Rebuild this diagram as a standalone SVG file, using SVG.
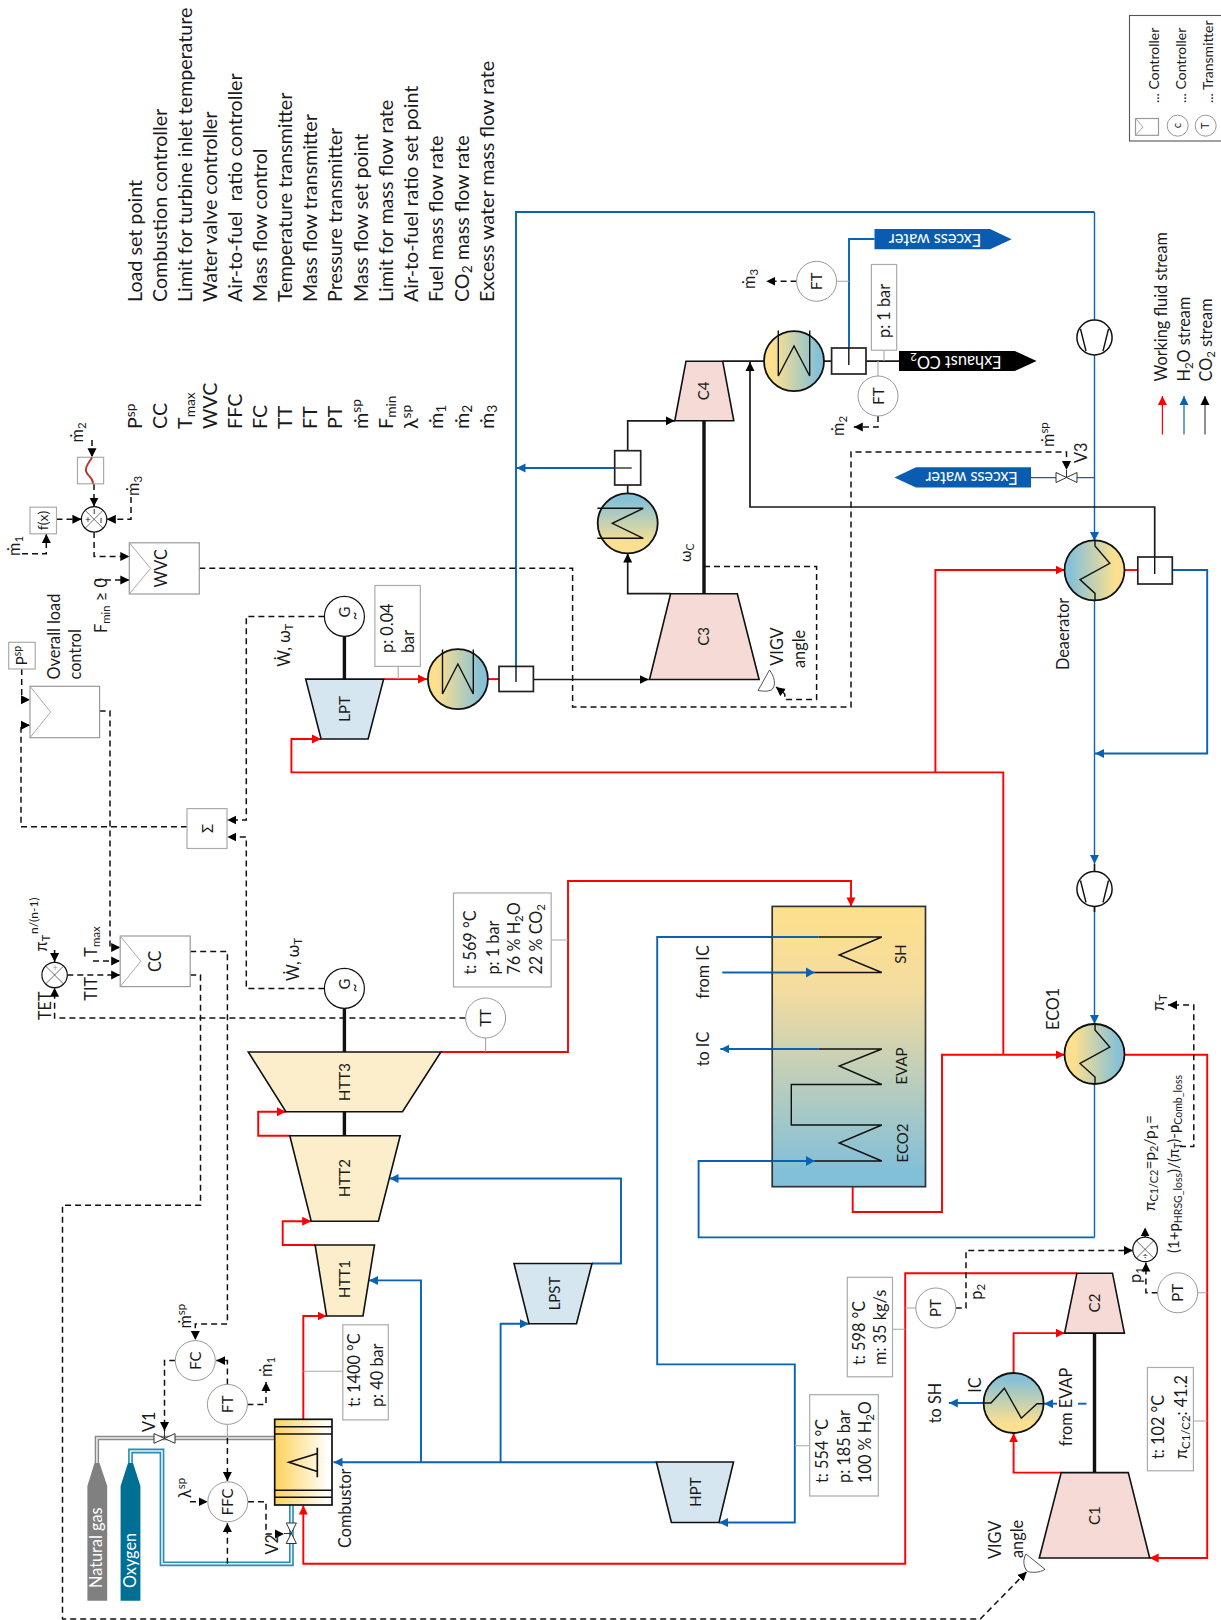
<svg xmlns="http://www.w3.org/2000/svg" width="1221" height="1620" viewBox="0 0 1221 1620">
<style>
text{font-family:Lato,"Noto Sans","DejaVu Sans",sans-serif;fill:#1a1a1a;font-size:16.3px}
.l{font-size:19.7px}.m{font-size:15px}.s{font-size:14px}.c{text-anchor:middle}
.su{font-size:70%}
.w{fill:#fff}
.r,.b,.k,.d,.g,.cl{fill:none}
.r{stroke:#f00;stroke-width:1.9}
.b{stroke:#0a62b5;stroke-width:1.9}
.bt{stroke:#0a62b5;stroke-width:1.4;fill:none}
.k{stroke:#1a1a1a;stroke-width:1.7}
.sh{stroke:#111;stroke-width:3.4;fill:none}
.d{stroke:#111;stroke-width:1.5;stroke-dasharray:6 4}
.g{stroke:#a8a8a8;stroke-width:1.1}
.box{fill:#fff;stroke:#aaa;stroke-width:1.2}
.circ{fill:#fff;stroke:#999;stroke-width:1}
.circk{fill:#fff;stroke:#111;stroke-width:1.2}
.cl{stroke:#111;stroke-width:1.4}
.x{stroke:#333;stroke-width:.7;fill:none}
.hx{stroke:#111;stroke-width:1.8}
.tu{stroke:#111;stroke-width:1.6}
.htt{fill:#fdeecb}.lp{fill:#d5e6f1}.co{fill:#f5dad5}
.ctl{fill:#fff;stroke:#999;stroke-width:1.2}
.chev{fill:none;stroke:#aaa;stroke-width:1}
.sep{fill:#fff;stroke:#222;stroke-width:1.7}
.val{fill:#fff;stroke:#333;stroke-width:1}
</style>
<defs>
<linearGradient id="gH"><stop offset="0.15" stop-color="#fde08f"/><stop offset="0.9" stop-color="#86c1d7"/></linearGradient>
<linearGradient id="gHr"><stop offset="0.1" stop-color="#86c1d7"/><stop offset="0.85" stop-color="#fde08f"/></linearGradient>
<linearGradient id="gV" x1="0" y1="0" x2="0" y2="1"><stop offset="0.1" stop-color="#86c1d7"/><stop offset="0.85" stop-color="#fde08f"/></linearGradient>
<linearGradient id="gS" x1="0" y1="0" x2="0" y2="1"><stop offset="0.03" stop-color="#fde08f"/><stop offset="0.3" stop-color="#f3dc9f"/><stop offset="0.95" stop-color="#82bfd9"/></linearGradient>
<linearGradient id="gC"><stop offset="0.05" stop-color="#fdd566"/><stop offset="0.95" stop-color="#fff"/></linearGradient>
<marker id="ar" viewBox="0 0 10 10" refX="10" refY="5" markerWidth="9" markerHeight="10" markerUnits="userSpaceOnUse" orient="auto"><path d="M0 0L10 5L0 10z" fill="#f00"/></marker>
<marker id="ab" viewBox="0 0 10 10" refX="10" refY="5" markerWidth="9" markerHeight="10" markerUnits="userSpaceOnUse" orient="auto"><path d="M0 0L10 5L0 10z" fill="#0a62b5"/></marker>
<marker id="ak" viewBox="0 0 10 10" refX="10" refY="5" markerWidth="9" markerHeight="10" markerUnits="userSpaceOnUse" orient="auto"><path d="M0 0L10 5L0 10z" fill="#000"/></marker>
</defs>

<g id="connectors">
<g class="r">
<path d="M303.3 1419V1316H326.6" marker-end="url(#ar)"/>
<path d="M315.1 1245H282.7V1221.2H311.2" marker-end="url(#ar)"/>
<path d="M289.8 1135.8H258.2V1111.7H285.9" marker-end="url(#ar)"/>
<path d="M440.9 1052H568V881H851V906.4" marker-end="url(#ar)"/>
<path d="M852.7 1186.7V1212H942V1054.8H1064.6" marker-end="url(#ar)"/>
<path d="M1003.3 1054.8V772.4H291.4V739H321" marker-end="url(#ar)"/>
<path d="M935.4 772.4V570H1064.6" marker-end="url(#ar)"/>
<path d="M383.6 679.1H427" marker-end="url(#ar)"/>
<path d="M488 679.1H499"/>
<path d="M1124.5 570H1137.8"/>
<path d="M1124.5 1054.8H1207.2V1558H1149.7" marker-end="url(#ar)"/>
<path d="M1076.9 1273.2H905.2V1563.8H303.3V1505.5" marker-end="url(#ar)"/>
<path d="M1061.2 1472.6H1013.6V1433.3" marker-end="url(#ar)"/>
<path d="M1013.6 1373V1333.1H1064.6" marker-end="url(#ar)"/>
</g>
<path class="b" d="M516 666V212H1094.5"/>
<path class="bt" d="M1094.5 212V320M1094.5 355V541" marker-end="url(#ab)"/>
<path class="b" d="M615 468H516.5" marker-end="url(#ab)"/>
<path class="b" d="M849 365V239H874.5"/>
<path class="bt" d="M1094.5 477.6H1077M1056 477.6H1031"/>
<path class="b" d="M1172.3 570H1207.2V753.5H1095" marker-end="url(#ab)"/>
<path class="bt" d="M1094.5 600V864" marker-end="url(#ab)"/>
<path class="bt" d="M1094.5 906V1024" marker-end="url(#ab)"/>
<path class="bt" d="M1094.5 1084V1237.4"/>
<path class="b" d="M1094.5 1237.4H698.6V1161H814.7" marker-end="url(#ab)"/>
<path class="b" d="M818.5 937H657.2V1364.4H794.8V1522.5H719" marker-end="url(#ab)"/>
<path class="b" d="M722.3 972.5H814.7" marker-end="url(#ab)"/>
<path class="b" d="M818.5 1049H720.4" marker-end="url(#ab)"/>
<path class="b" d="M656.4 1462.2H333.5" marker-end="url(#ab)"/>
<path class="b" d="M421 1462.2V1280.4H369" marker-end="url(#ab)"/>
<path class="b" d="M500.6 1462.2V1323.8H529" marker-end="url(#ab)"/>
<path class="b" d="M592 1263.5H621V1178.5H389.5" marker-end="url(#ab)"/>
<path class="b" d="M983.4 1403H948.9" marker-end="url(#ab)"/>
<path class="b" d="M1057 1403.7H1044" marker-end="url(#ab)"/>
<path class="b" d="M1078 1403.7H1086.5"/>
<path class="k" d="M533.4 679.5H648.7" marker-end="url(#ak)"/>
<path class="k" d="M670.6 593.7H627.7V553.5" marker-end="url(#ak)"/>
<path class="k" d="M627.7 493V485"/>
<path class="k" d="M627.7 450.7V420.8H674.8" marker-end="url(#ak)"/>
<path class="k" d="M722.7 361.2H764M824 361.2H831.6M866 361.2H899"/>
<path class="k" d="M1154.7 574V507H750V362" marker-end="url(#ak)"/>
<path class="k" d="M1094.5 864V872M1094.5 906V912"/>
<path class="sh" d="M344.4 636V679M344.4 1008V1052M344.4 1111.7V1135.8M704 421V593.7M1094.5 1333V1472.6"/>
<path d="M96.9 1463V1438H274.8" fill="none" stroke="#8a8a8a" stroke-width="4.4"/>
<path d="M96.9 1463V1438H274.8" fill="none" stroke="#eee" stroke-width="1.5"/>
<path d="M130.5 1463V1451H162V1563.8H291.4V1503.5" fill="none" stroke="#2b8db4" stroke-width="4.8"/>
<path d="M130.5 1463V1451H162V1563.8H291.4V1503.5" fill="none" stroke="#e8f4f8" stroke-width="1.6"/>
<path class="g" d="M303.3 1371.3H342.8M794.8 1445.7H809.7M892.5 1329.3H905.2M551.2 940H568M1193.4 1421H1207.2M884 350V361M398.2 666V679M878 361V376M796.6 281.3H849M485.6 1038V1052M1197.7 1292.8H1207.2M905.2 1308H915.8M227.4 1424V1438"/>
<g class="d">
<path d="M324.4 616.4H246.3V820H227.4" marker-end="url(#ak)"/>
<path d="M324.4 988.4H246.3V837H227.4" marker-end="url(#ak)"/>
<path d="M187 826.8H21V725.3H30" marker-end="url(#ak)"/>
<path d="M21.7 669V699.8H30" marker-end="url(#ak)"/>
<path d="M99.6 711H110V947.4H120.2" marker-end="url(#ak)"/>
<path d="M93 961H120.2" marker-end="url(#ak)"/>
<path d="M67.3 975H120.2" marker-end="url(#ak)"/>
<path d="M54.6 950V962" marker-end="url(#ak)"/>
<path d="M465.4 1018H54.6V987.7" marker-end="url(#ak)"/>
<path d="M190.2 951.5H227.4V1324H195.3V1340" marker-end="url(#ak)"/>
<path d="M190.2 975H200.5V1205.3H62.5V1619H980.3L1026.7 1571.7" marker-end="url(#ak)"/>
<path d="M227.4 1384.4V1360.6H216.3" marker-end="url(#ak)"/>
<path d="M175.3 1360.6H164.5V1431" marker-end="url(#ak)"/>
<path d="M247.4 1404.4H266V1382" marker-end="url(#ak)"/>
<path d="M227.4 1438V1481" marker-end="url(#ak)"/>
<path d="M227.4 1563.8V1523" marker-end="url(#ak)"/>
<path d="M190 1501.8H207.6" marker-end="url(#ak)"/>
<path d="M248 1501.8H266V1534H284" marker-end="url(#ak)"/>
<path d="M199.3 568.2H572.6V707H851V452H1066.5V470" marker-end="url(#ak)"/>
<path d="M704 566.5H816.6V699.4H784.8V694L776 687" marker-end="url(#ak)"/>
<path d="M94.1 532V556.5H129.3" marker-end="url(#ak)"/>
<path d="M95 580H129.3" marker-end="url(#ak)"/>
<path d="M22 553.8H46.3V534" marker-end="url(#ak)"/>
<path d="M56.5 519.3H81.4" marker-end="url(#ak)"/>
<path d="M131 497V519.3H106.8" marker-end="url(#ak)"/>
<path d="M94 484V506.6" marker-end="url(#ak)"/>
<path d="M92 440V457.3" marker-end="url(#ak)"/>
<path d="M796.6 281.3H766.4" marker-end="url(#ak)"/>
<path d="M878 416V427H853.8" marker-end="url(#ak)"/>
<path d="M955.8 1308H966V1250.5H1132.8" marker-end="url(#ak)"/>
<path d="M1157.7 1292.8H1145.9V1262.5" marker-end="url(#ak)"/>
<path d="M1145.1 1237V1227.4" marker-end="url(#ak)"/>
<path d="M1180 1146.5H1193.8V1005H1168" marker-end="url(#ak)"/>
</g>
</g>

<g id="legend-text">
<text class="l" transform="rotate(-90 141.6 302)" x="141.6" y="302">Load set point</text>
<text class="l" transform="rotate(-90 166.5 302)" x="166.5" y="302">Combustion controller</text>
<text class="l" transform="rotate(-90 191.8 302)" x="191.8" y="302">Limit for turbine inlet temperature</text>
<text class="l" transform="rotate(-90 216.7 302)" x="216.7" y="302">Water valve controller</text>
<text class="l" transform="rotate(-90 242 302)" x="242" y="302">Air-to-fuel&#160; ratio controller</text>
<text class="l" transform="rotate(-90 267 302)" x="267" y="302">Mass flow control</text>
<text class="l" transform="rotate(-90 292 302)" x="292" y="302">Temperature transmitter</text>
<text class="l" transform="rotate(-90 317 302)" x="317" y="302">Mass flow transmitter</text>
<text class="l" transform="rotate(-90 342.4 302)" x="342.4" y="302">Pressure transmitter</text>
<text class="l" transform="rotate(-90 367.7 302)" x="367.7" y="302">Mass flow set point</text>
<text class="l" transform="rotate(-90 393 302)" x="393" y="302">Limit for mass flow rate</text>
<text class="l" transform="rotate(-90 418.3 302)" x="418.3" y="302">Air-to-fuel ratio set point</text>
<text class="l" transform="rotate(-90 443.3 302)" x="443.3" y="302">Fuel mass flow rate</text>
<text class="l" transform="rotate(-90 468.6 302)" x="468.6" y="302">CO<tspan class="su" dy="3">2</tspan><tspan dy="-3"> mass flow rate</tspan></text>
<text class="l" transform="rotate(-90 493.9 302)" x="493.9" y="302">Excess water mass flow rate</text>
<text class="l" transform="rotate(-90 141.6 429)" x="141.6" y="429">P<tspan class="su" dy="-7">sp</tspan></text>
<text class="l" transform="rotate(-90 166.5 429)" x="166.5" y="429">CC</text>
<text class="l" transform="rotate(-90 191.8 429)" x="191.8" y="429">T<tspan class="su" dy="3">max</tspan></text>
<text class="l" transform="rotate(-90 216.7 429)" x="216.7" y="429">WVC</text>
<text class="l" transform="rotate(-90 242 429)" x="242" y="429">FFC</text>
<text class="l" transform="rotate(-90 267 429)" x="267" y="429">FC</text>
<text class="l" transform="rotate(-90 292 429)" x="292" y="429">TT</text>
<text class="l" transform="rotate(-90 317 429)" x="317" y="429">FT</text>
<text class="l" transform="rotate(-90 342.4 429)" x="342.4" y="429">PT</text>
<text class="l" transform="rotate(-90 367.7 429)" x="367.7" y="429">ṁ<tspan class="su" dy="-7">sp</tspan></text>
<text class="l" transform="rotate(-90 393 429)" x="393" y="429">F<tspan class="su" dy="3">min</tspan></text>
<text class="l" transform="rotate(-90 418.3 429)" x="418.3" y="429">λ<tspan class="su" dy="-7">sp</tspan></text>
<text class="l" transform="rotate(-90 443.3 429)" x="443.3" y="429">ṁ<tspan class="su" dy="3">1</tspan></text>
<text class="l" transform="rotate(-90 468.6 429)" x="468.6" y="429">ṁ<tspan class="su" dy="3">2</tspan></text>
<text class="l" transform="rotate(-90 493.9 429)" x="493.9" y="429">ṁ<tspan class="su" dy="3">3</tspan></text>
</g>

<g id="symbol-legend">
<rect x="1129.5" y="15.5" width="100" height="125.5" fill="#fff" stroke="#555" stroke-width="1.1"/>
<rect class="ctl" x="1135.5" y="118.5" width="23" height="16.8"/>
<path class="chev" d="M1135.5 118.5L1143 127L1135.5 135.3"/>
<circle class="circ" cx="1177.7" cy="125.7" r="10.5"/>
<circle class="circ" cx="1205.7" cy="125.7" r="10.5"/>
<text style="font-size:11px" transform="rotate(-90 1181.5 125.7)" x="1181.5" y="125.7" text-anchor="middle">c</text>
<text style="font-size:11px" transform="rotate(-90 1209.5 125.7)" x="1209.5" y="125.7" text-anchor="middle">T</text>
<text class="s" transform="rotate(-90 1158.5 103)" x="1158.5" y="103">... Controller</text>
<text class="s" transform="rotate(-90 1185.5 103)" x="1185.5" y="103">... Controller</text>
<text class="s" transform="rotate(-90 1213 103)" x="1213" y="103">... Transmitter</text>
</g>
<g id="stream-legend">
<path d="M1162.4 434.6V396" fill="none" stroke="#f00" stroke-width="1.2" marker-end="url(#ar)"/>
<path d="M1184 434.6V396" fill="none" stroke="#0a62b5" stroke-width="1.2" marker-end="url(#ab)"/>
<path d="M1205 434.6V396" fill="none" stroke="#444" stroke-width="1.2" marker-end="url(#ak)"/>
<text transform="rotate(-90 1167.3 381.5)" x="1167.3" y="381.5">Working fluid stream</text>
<text transform="rotate(-90 1190 381.5)" x="1190" y="381.5">H<tspan class="su" dy="3">2</tspan><tspan dy="-3">O stream</tspan></text>
<text transform="rotate(-90 1212 381.5)" x="1212" y="381.5">CO<tspan class="su" dy="3">2</tspan><tspan dy="-3"> stream</tspan></text>
</g>

<g id="HRSG">
<rect x="772.2" y="906.4" width="153.3" height="280.3" fill="url(#gS)" stroke="#333" stroke-width="1.7"/>
<path class="b" d="M772.2 937H818.5M772.2 972.5H814.7M772.2 1049H818.5M772.2 1161H814.7"/>
<path class="cl" d="M818.5 937H881.8L839.2 955L881.8 972.5H814.7"/>
<path class="cl" d="M818.5 1049H881.8L839.2 1066L881.8 1084.5H791.3V1125H881.8L839.2 1143L881.8 1161H814.7"/>
<polygon points="814.7,972.5 806,967.5 806,977.5" fill="#0a62b5"/>
<polygon points="814.7,1161 806,1156 806,1166" fill="#0a62b5"/>
<text class="m" transform="rotate(-90 905.6 954)" x="905.6" y="954" text-anchor="middle">SH</text>
<text class="m" transform="rotate(-90 906.5 1066)" x="906.5" y="1066" text-anchor="middle">EVAP</text>
<text class="m" transform="rotate(-90 907.5 1143)" x="907.5" y="1143" text-anchor="middle">ECO2</text>
<text transform="rotate(-90 709 972)" x="709" y="972" text-anchor="middle">from IC</text>
<text transform="rotate(-90 709 1049)" x="709" y="1049" text-anchor="middle">to IC</text>
</g>

<g id="HTT1"><polygon class="htt tu" points="315.1,1245 374.5,1245 363,1316 326.6,1316"/><text class="m" transform="rotate(-90 350 1279)" x="350" y="1279" text-anchor="middle">HTT1</text></g>
<g id="HTT2"><polygon class="htt tu" points="289.8,1135.8 400.2,1135.8 378.4,1221.2 311.2,1221.2"/><text class="m" transform="rotate(-90 350 1178)" x="350" y="1178" text-anchor="middle">HTT2</text></g>
<g id="HTT3"><polygon class="htt tu" points="248.3,1052 440.9,1052 402.5,1111.7 285.9,1111.7"/><text class="m" transform="rotate(-90 350 1082)" x="350" y="1082" text-anchor="middle">HTT3</text></g>
<g id="LPT"><polygon class="lp tu" points="305.7,679.1 383.6,679.1 368.1,739 321.1,739"/><text class="m" transform="rotate(-90 350 709)" x="350" y="709" text-anchor="middle">LPT</text></g>
<g id="LPST"><polygon class="lp tu" points="514,1263.5 592,1263.5 576.5,1323.8 529,1323.8"/><text class="m" transform="rotate(-90 559.5 1293.5)" x="559.5" y="1293.5" text-anchor="middle">LPST</text></g>
<g id="HPT"><polygon class="lp tu" points="656.4,1462 733.5,1462 719,1522.5 671.4,1522.5"/><text class="m" transform="rotate(-90 701 1492)" x="701" y="1492" text-anchor="middle">HPT</text></g>
<g id="C3"><polygon class="co tu" points="670.6,593.7 737.3,593.7 759.1,679.5 649.5,679.5"/><text class="m" transform="rotate(-90 709 636.4)" x="709" y="636.4" text-anchor="middle">C3</text></g>
<g id="C4"><polygon class="co tu" points="686,361.2 722.7,361.2 733.8,420.8 674.8,420.8"/><text class="m" transform="rotate(-90 709 390.8)" x="709" y="390.8" text-anchor="middle">C4</text></g>
<g id="C1"><polygon class="co tu" points="1061.2,1472.6 1128.3,1472.6 1149.7,1558 1039.3,1558"/><text class="m" transform="rotate(-90 1100 1515.6)" x="1100" y="1515.6" text-anchor="middle">C1</text></g>
<g id="C2"><polygon class="co tu" points="1076.9,1273.2 1112.5,1273.2 1124.4,1333.1 1064.6,1333.1"/><text class="m" transform="rotate(-90 1100 1303)" x="1100" y="1303" text-anchor="middle">C2</text></g>

<g id="Combustor">
<rect x="274.7" y="1419.3" width="57.3" height="85.7" fill="url(#gC)" stroke="#111" stroke-width="1.7"/>
<path d="M274.7 1426.7H332M274.7 1434H332M274.7 1490.3H332M274.7 1497.3H332" stroke="#111" stroke-width="1.4" fill="none"/>
<path d="M317.3 1447.7V1477.3M317.3 1453.5L289 1462.3L317.3 1471.5" stroke="#111" stroke-width="1.7" fill="none"/>
<text transform="rotate(-90 351 1548)" x="351" y="1548">Combustor</text>
</g>

<g id="LP-condenser"><circle class="hx" cx="457.9" cy="679.1" r="30" fill="url(#gH)"/><path class="cl" d="M442.5 649.5V694L457.9 664L473.3 694V649.5"/></g>
<g id="separator-1"><rect class="sep" x="499" y="666.4" width="34.4" height="25.1"/><path class="cl" d="M516 666V682"/></g>
<g id="intercooler-2"><circle class="hx" cx="627.7" cy="523.3" r="30" fill="url(#gV)"/><path class="cl" d="M597.3 508.3H643.3L612.3 523.3L643.3 538.3H597.3"/></g>
<g id="separator-2"><rect class="sep" x="614.7" y="450.7" width="26" height="34.3"/><path d="M615 468H631.7" stroke="#555" stroke-width="1.7" fill="none"/></g>
<g id="condenser-2"><circle class="hx" cx="794" cy="361.2" r="30" fill="url(#gH)"/><path class="cl" d="M778.3 330.6V376L794 346L809.7 376V330.6"/></g>
<g id="separator-3"><rect class="sep" x="831.6" y="348" width="34.4" height="26"/><path class="cl" d="M848.8 348V365"/></g>
<g id="Deaerator"><circle class="hx" cx="1094.5" cy="570.3" r="30" fill="url(#gHr)"/><path class="cl" d="M1095 540V546L1109.8 563.4L1080 579.6L1095 593.4V600.6"/><text transform="rotate(-90 1069 670)" x="1069" y="670">Deaerator</text></g>
<g id="separator-4"><rect class="sep" x="1137.8" y="557" width="34.5" height="27"/><path class="cl" d="M1154.7 557V574"/></g>
<g id="ECO1"><circle class="hx" cx="1094.5" cy="1054" r="30" fill="url(#gH)"/><path class="cl" d="M1095 1024V1030L1109.8 1047L1080 1063.5L1095 1077V1084"/><text transform="rotate(-90 1059 1030)" x="1059" y="1030">ECO1</text></g>
<g id="IC"><circle class="hx" cx="1013.6" cy="1403" r="30" fill="url(#gV)"/><path class="cl" d="M983.4 1403H991L1004.4 1388.2L1021.3 1418.2L1037 1403.7H1043.8"/><text transform="rotate(-90 981.4 1392.7)" x="981.4" y="1392.7">IC</text></g>
<g id="pump-1"><ellipse cx="1094.5" cy="337.5" rx="17.6" ry="17.4" fill="#fff" stroke="#111" stroke-width="1.5"/><path class="cl" d="M1080.5 329L1086 351M1108.5 329L1103 351"/></g>
<g id="pump-2"><ellipse cx="1094.5" cy="889" rx="17.6" ry="17.4" fill="#fff" stroke="#111" stroke-width="1.5"/><path class="cl" d="M1080.5 880.5L1086 902.5M1108.5 880.5L1103 902.5"/></g>

<g id="G1"><circle class="circk" cx="344.4" cy="616.4" r="20"/><text class="m" transform="rotate(-90 350 612)" x="350" y="612" text-anchor="middle">G</text><text class="m" transform="rotate(-90 360 616)" x="360" y="616" text-anchor="middle">~</text></g>
<g id="G2"><circle class="circk" cx="344.4" cy="988.4" r="20"/><text class="m" transform="rotate(-90 350 984)" x="350" y="984" text-anchor="middle">G</text><text class="m" transform="rotate(-90 360 988)" x="360" y="988" text-anchor="middle">~</text></g>

<g id="TT"><circle class="circ" cx="485.6" cy="1018" r="20"/><text class="m" transform="rotate(-90 491 1018)" x="491" y="1018" text-anchor="middle">TT</text></g>
<g id="FT-1"><circle class="circ" cx="816.6" cy="281.3" r="20"/><text class="m" transform="rotate(-90 822 281.3)" x="822" y="281.3" text-anchor="middle">FT</text></g>
<g id="FT-2"><circle class="circ" cx="878" cy="396" r="20"/><text class="m" transform="rotate(-90 883.5 396)" x="883.5" y="396" text-anchor="middle">FT</text></g>
<g id="FT-3"><circle class="circ" cx="227.4" cy="1404.4" r="20"/><text class="m" transform="rotate(-90 233 1404.4)" x="233" y="1404.4" text-anchor="middle">FT</text></g>
<g id="FC"><circle class="circ" cx="195.3" cy="1360.6" r="20"/><text class="m" transform="rotate(-90 201 1360.6)" x="201" y="1360.6" text-anchor="middle">FC</text></g>
<g id="FFC"><circle class="circ" cx="227.8" cy="1501.8" r="20"/><text class="m" transform="rotate(-90 233.5 1501.8)" x="233.5" y="1501.8" text-anchor="middle">FFC</text></g>
<g id="PT-1"><circle class="circ" cx="935.8" cy="1308" r="20"/><text class="m" transform="rotate(-90 941 1308)" x="941" y="1308" text-anchor="middle">PT</text></g>
<g id="PT-2"><circle class="circ" cx="1177.7" cy="1292.8" r="20"/><text class="m" transform="rotate(-90 1183 1292.8)" x="1183" y="1292.8" text-anchor="middle">PT</text></g>

<g id="WVC"><rect class="ctl" x="129.3" y="542.8" width="70" height="51.2"/><path class="chev" d="M129.3 542.8L150.6 568.4L129.3 594"/><text transform="rotate(-90 167.5 568.4)" x="167.5" y="568.4" text-anchor="middle">WVC</text></g>
<g id="CC"><rect class="ctl" x="120.2" y="936" width="70" height="50.6"/><path class="chev" d="M120.2 936L140.8 961.3L120.2 986.6"/><text transform="rotate(-90 161.5 961.3)" x="161.5" y="961.3" text-anchor="middle">CC</text></g>
<g id="load-control"><rect class="ctl" x="30" y="686.3" width="69.6" height="51.4"/><path class="chev" d="M30 686.3L50.6 712L30 737.7"/><text transform="rotate(-90 60 679.5)" x="60" y="679.5">Overall load</text><text transform="rotate(-90 81 679.5)" x="81" y="679.5">control</text></g>
<g id="Psp"><rect class="box" x="8.7" y="642.3" width="26.5" height="26.7"/><text class="m" transform="rotate(-90 27 655.6)" x="27" y="655.6" text-anchor="middle">P<tspan class="su" dy="-6">sp</tspan></text></g>
<g id="Sigma"><rect class="box" x="187" y="808.6" width="40" height="39.9"/><text class="m" transform="rotate(-90 213 828.5)" x="213" y="828.5" text-anchor="middle">Σ</text></g>
<g id="fx"><rect class="box" x="30" y="507.2" width="26.5" height="26.6"/><text class="s" transform="rotate(-90 48 520.5)" x="48" y="520.5" text-anchor="middle">f(x)</text></g>
<g id="filter"><rect class="box" x="77.5" y="457.3" width="26.1" height="26.5"/><path d="M92 457.5C88 464 85 467 86 471C87 476 93 477 93 483.5" fill="none" stroke="#b8392d" stroke-width="2"/></g>

<g id="mult-1"><circle class="circk" cx="94.1" cy="519.3" r="12.7"/><path class="x" d="M85.1 510.3L103.1 528.3M103.1 510.3L85.1 528.3"/><text style="font-size:10px" x="88" y="523" text-anchor="middle">+</text><text style="font-size:10px" x="94.1" y="514" text-anchor="middle">ı</text><text style="font-size:10px" x="101" y="523" text-anchor="middle">ı</text></g>
<g id="mult-2"><circle class="circk" cx="54.6" cy="975" r="12.7"/><path class="x" d="M45.6 966L63.6 984M63.6 966L45.6 984"/><text style="font-size:9px;fill:#999" x="55" y="971" text-anchor="middle">+</text></g>
<g id="mult-3"><circle class="circk" cx="1145.1" cy="1249.4" r="12.3"/><path class="x" d="M1136.4 1240.7L1153.8 1258.1M1153.8 1240.7L1136.4 1258.1"/><text style="font-size:9px" x="1145.1" y="1259" text-anchor="middle">÷</text></g>

<g id="V1"><path class="val" d="M154 1433.6L175 1443.3V1433.6L154 1443.3Z"/><path d="M164.5 1431V1438" stroke="#333" stroke-width="1" fill="none"/><text transform="rotate(-90 155.4 1432)" x="155.4" y="1432">V1</text></g>
<g id="V2"><path class="val" d="M286.2 1523L296.4 1523L286.2 1543.5L296.4 1543.5Z"/><path d="M284 1533.5H291" stroke="#333" stroke-width="1" fill="none"/><text transform="rotate(-90 277.6 1554.5)" x="277.6" y="1554.5">V2</text></g>
<g id="V3"><path class="val" d="M1056 472.5L1077 482.5V472.5L1056 482.5Z"/><path d="M1066.5 470V477" stroke="#333" stroke-width="1" fill="none"/><text transform="rotate(-90 1087 463)" x="1087" y="463">V3</text></g>

<g id="VIGV-1"><path d="M769.5 670C774 676 777 685 771.5 690C767 692 762 691 758 690.5Z" fill="#fff" stroke="#555" stroke-width="1"/><text transform="rotate(-90 783 665.7)" x="783" y="665.7">VIGV</text><text transform="rotate(-90 805 668)" x="805" y="668">angle</text></g>
<g id="VIGV-2"><path d="M1026 1554L1045 1569.3C1040 1573 1030 1573 1027 1571C1023 1566 1023 1559 1026 1554Z" fill="#fff" stroke="#555" stroke-width="1"/><text transform="rotate(-90 1000.6 1559)" x="1000.6" y="1559">VIGV</text><text transform="rotate(-90 1022.5 1558)" x="1022.5" y="1558">angle</text></g>

<g id="natural-gas"><path d="M94.5 1463H99.5L107.2 1486V1600.7H87.4V1486Z" fill="#808080"/><text class="w" transform="rotate(-90 102 1588)" x="102" y="1588">Natural gas</text></g>
<g id="oxygen"><path d="M128 1463H133L140.4 1486V1600.7H120.6V1486Z" fill="#006f94"/><text class="w" transform="rotate(-90 135.6 1588)" x="135.6" y="1588">Oxygen</text></g>

<g id="excess-1"><path d="M874.5 229H990L1011.7 239.2L990 249.3H874.5Z" fill="#0a5cb0"/><text class="w" transform="rotate(180 935 234)" x="935" y="234" text-anchor="middle">Excess water</text></g>
<g id="excess-2"><path d="M1031 467.3H916L894.4 477.5L916 487.6H1031Z" fill="#0a5cb0"/><text class="w" transform="rotate(180 971.7 472)" x="971.7" y="472" text-anchor="middle">Excess water</text></g>
<g id="exhaust"><path d="M899 351H1014.8L1036.6 361L1014.8 371H899Z" fill="#000"/><text class="w" transform="rotate(180 956 355.5)" x="956" y="355.5" text-anchor="middle">Exhaust CO<tspan class="su" dy="3">2</tspan></text></g>

<g id="info-boxes">
<rect class="box" x="342.8" y="1324.8" width="45.5" height="95.1"/>
<text transform="rotate(-90 359.8 1407)" x="359.8" y="1407">t: 1400 °C</text>
<text transform="rotate(-90 382.8 1407)" x="382.8" y="1407">p: 40 bar</text>
<rect class="box" x="809.7" y="1394.7" width="68.6" height="101.3"/>
<text transform="rotate(-90 828 1483)" x="828" y="1483">t: 554 °C</text>
<text transform="rotate(-90 850 1483)" x="850" y="1483">p: 185 bar</text>
<text transform="rotate(-90 871 1483)" x="871" y="1483">100 % H<tspan class="su" dy="3">2</tspan><tspan dy="-3">O</tspan></text>
<rect class="box" x="847.3" y="1277.3" width="45.2" height="99.5"/>
<text transform="rotate(-90 864.5 1365)" x="864.5" y="1365">t: 598 °C</text>
<text transform="rotate(-90 886.4 1365)" x="886.4" y="1365">m: 35 kg/s</text>
<rect class="box" x="453.5" y="893" width="97.7" height="94"/>
<text transform="rotate(-90 476.5 974.6)" x="476.5" y="974.6">t: 569 °C</text>
<text transform="rotate(-90 499 974.6)" x="499" y="974.6">p: 1 bar</text>
<text transform="rotate(-90 520 974.6)" x="520" y="974.6">76 % H<tspan class="su" dy="3">2</tspan><tspan dy="-3">O</tspan></text>
<text transform="rotate(-90 542.5 974.6)" x="542.5" y="974.6">22 % CO<tspan class="su" dy="3">2</tspan></text>
<rect class="box" x="1147.4" y="1367.5" width="46" height="103.3"/>
<text transform="rotate(-90 1164 1459)" x="1164" y="1459">t: 102 °C</text>
<text transform="rotate(-90 1186.5 1459)" x="1186.5" y="1459">π<tspan class="su" dy="3">C1/C2</tspan><tspan dy="-3">: 41.2</tspan></text>
<rect class="box" x="374.9" y="585.5" width="45.4" height="80.9"/>
<text transform="rotate(-90 393 653)" x="393" y="653">p: 0.04</text>
<text transform="rotate(-90 414 653)" x="414" y="653">bar</text>
<rect class="box" x="871.4" y="264.5" width="25.3" height="85.7"/>
<text transform="rotate(-90 889.5 338)" x="889.5" y="338">p: 1 bar</text>
</g>

<g id="signal-labels">
<text transform="rotate(-90 290 666.7)" x="290" y="666.7">Ẇ, ω<tspan class="su" dy="3">T</tspan></text>
<text transform="rotate(-90 298.5 981)" x="298.5" y="981">Ẇ, ω<tspan class="su" dy="3">T</tspan></text>
<text class="m" transform="rotate(-90 691 562)" x="691" y="562">ω<tspan class="su" dy="3">C</tspan></text>
<text transform="rotate(-90 46.7 951.5)" x="46.7" y="951.5">π<tspan class="su" dy="3">T</tspan></text>
<text style="font-size:12px" transform="rotate(-90 38 934)" x="38" y="934">n/(n-1)</text>
<text transform="rotate(-90 51 1020)" x="51" y="1020">TET</text>
<text transform="rotate(-90 97 1000.7)" x="97" y="1000.7">TIT</text>
<text transform="rotate(-90 97 956.7)" x="97" y="956.7">T<tspan class="su" dy="3">max</tspan></text>
<text transform="rotate(-90 106.8 633)" x="106.8" y="633">F<tspan class="su" dy="3">min</tspan><tspan dy="-3"> ≥ 0</tspan></text>
<text transform="rotate(-90 19.8 556)" x="19.8" y="556">ṁ<tspan class="su" dy="3">1</tspan></text>
<text transform="rotate(-90 83 442.5)" x="83" y="442.5">ṁ<tspan class="su" dy="3">2</tspan></text>
<text transform="rotate(-90 139 496)" x="139" y="496">ṁ<tspan class="su" dy="3">3</tspan></text>
<text transform="rotate(-90 755 289)" x="755" y="289">ṁ<tspan class="su" dy="3">3</tspan></text>
<text transform="rotate(-90 844 436)" x="844" y="436">ṁ<tspan class="su" dy="3">2</tspan></text>
<text transform="rotate(-90 1054.3 447)" x="1054.3" y="447">ṁ<tspan class="su" dy="-6">sp</tspan></text>
<text transform="rotate(-90 272 1377)" x="272" y="1377">ṁ<tspan class="su" dy="3">1</tspan></text>
<text transform="rotate(-90 190.6 1328.6)" x="190.6" y="1328.6">ṁ<tspan class="su" dy="-6">sp</tspan></text>
<text transform="rotate(-90 190.6 1498)" x="190.6" y="1498">λ<tspan class="su" dy="-6">sp</tspan></text>
<text transform="rotate(-90 941 1403)" x="941" y="1403" text-anchor="middle">to SH</text>
<text transform="rotate(-90 1072.3 1407)" x="1072.3" y="1407" text-anchor="middle">from EVAP</text>
<text transform="rotate(-90 1140.5 1283)" x="1140.5" y="1283">p<tspan class="su" dy="3">1</tspan></text>
<text transform="rotate(-90 982 1299.7)" x="982" y="1299.7">p<tspan class="su" dy="3">2</tspan></text>
<text transform="rotate(-90 1164 1011)" x="1164" y="1011">π<tspan class="su" dy="3">T</tspan></text>
<text style="font-size:15.5px" transform="rotate(-90 1154.7 1211)" x="1154.7" y="1211">π<tspan class="su" dy="3">C1/C2</tspan><tspan dy="-3">=p</tspan><tspan class="su" dy="3">2</tspan><tspan dy="-3">/p</tspan><tspan class="su" dy="3">1</tspan><tspan dy="-3">=</tspan></text>
<text style="font-size:15px" transform="rotate(-90 1178.8 1253)" x="1178.8" y="1253">(1+p<tspan class="su" dy="3">HRSG_loss</tspan><tspan dy="-3">)/(π</tspan><tspan class="su" dy="3">T</tspan><tspan dy="-3">)-p</tspan><tspan class="su" dy="3">Comb_loss</tspan></text>
</g>
</svg>
